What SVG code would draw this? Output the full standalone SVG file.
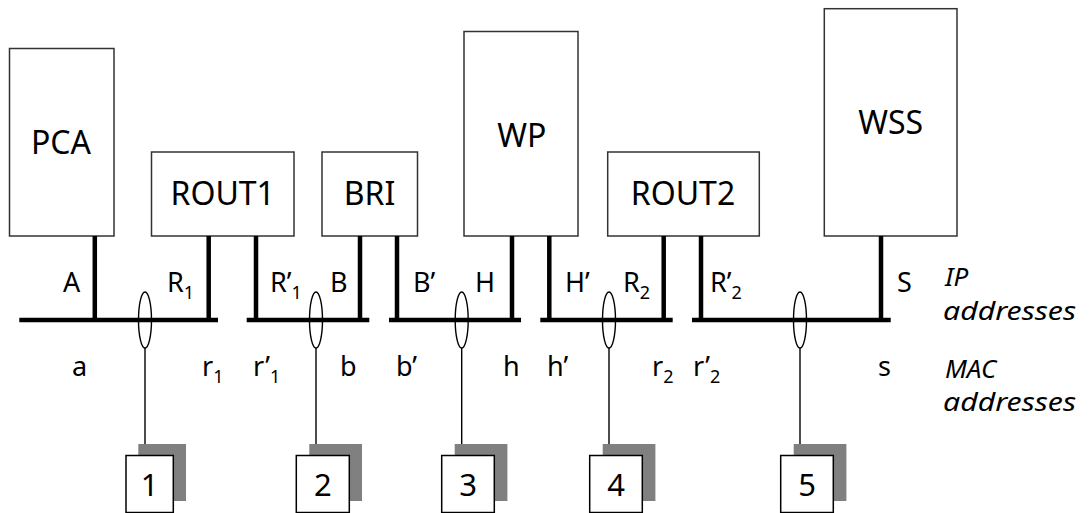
<svg xmlns="http://www.w3.org/2000/svg" width="1089" height="513" viewBox="0 0 1089 513">
<style>
  .box { fill: #fff; stroke: #333; stroke-width: 1.5; }
  .pin { stroke: #000; stroke-width: 4.5; fill: none; }
  .bus { stroke: #000; stroke-width: 4.5; fill: none; }
  .ell { fill: none; stroke: #000; stroke-width: 1.4; }
  .drop { stroke: #000; stroke-width: 1.4; fill: none; }
  .shadow { fill: #808080; }
  .sta { fill: #fff; stroke: #000; stroke-width: 1.5; }
  text { font-family: "Noto Sans", "DejaVu Sans", sans-serif; fill: #000; }
  .big { font-size: 32px; text-anchor: middle; }
  .lbl { font-size: 27px; }
  .sub { font-size: 18px; }
  .num { font-size: 31px; text-anchor: middle; }
  .it { font-size: 26px; font-style: italic; }
</style>

<g id="PCA">
  <rect class="box" x="9.5" y="48.5" width="104.5" height="187.5"/>
  <text class="big" x="61" y="154">PCA</text>
</g>
<g id="ROUT1">
  <rect class="box" x="151.5" y="152" width="142.5" height="84"/>
  <text class="big" x="222.7" y="205">ROUT1</text>
</g>
<g id="BRI">
  <rect class="box" x="322" y="152" width="95.5" height="84"/>
  <text class="big" x="369.5" y="205">BRI</text>
</g>
<g id="WP">
  <rect class="box" x="464" y="31.5" width="114" height="204.5"/>
  <text class="big" x="521.7" y="147">WP</text>
</g>
<g id="ROUT2">
  <rect class="box" x="607.7" y="152" width="151.6" height="84"/>
  <text class="big" x="683" y="205">ROUT2</text>
</g>
<g id="WSS">
  <rect class="box" x="824.3" y="8.7" width="132.7" height="227.3"/>
  <text class="big" x="890.7" y="134">WSS</text>
</g>

<g id="connectors">
  <line class="pin" x1="94.8" y1="236" x2="94.8" y2="320"/>
  <line class="pin" x1="208.7" y1="236" x2="208.7" y2="320"/>
  <line class="pin" x1="256" y1="236" x2="256" y2="320"/>
  <line class="pin" x1="360" y1="236" x2="360" y2="320"/>
  <line class="pin" x1="397" y1="236" x2="397" y2="320"/>
  <line class="pin" x1="512" y1="236" x2="512" y2="320"/>
  <line class="pin" x1="549.3" y1="236" x2="549.3" y2="320"/>
  <line class="pin" x1="663.7" y1="236" x2="663.7" y2="320"/>
  <line class="pin" x1="701" y1="236" x2="701" y2="320"/>
  <line class="pin" x1="881" y1="236" x2="881" y2="320"/>

  <line class="bus" x1="19.3" y1="320" x2="218" y2="320"/>
  <line class="bus" x1="246.7" y1="320" x2="369.3" y2="320"/>
  <line class="bus" x1="389" y1="320" x2="521" y2="320"/>
  <line class="bus" x1="540.3" y1="320" x2="672.7" y2="320"/>
  <line class="bus" x1="692" y1="320" x2="890.7" y2="320"/>

  <ellipse class="ell" cx="145" cy="320" rx="6.5" ry="28"/>
  <ellipse class="ell" cx="316" cy="320" rx="6.5" ry="28"/>
  <ellipse class="ell" cx="461.7" cy="320" rx="6.5" ry="28"/>
  <ellipse class="ell" cx="609" cy="320" rx="6.5" ry="28"/>
  <ellipse class="ell" cx="800" cy="320" rx="6.5" ry="28"/>

  <line class="drop" x1="145" y1="348" x2="145" y2="444"/>
  <line class="drop" x1="316" y1="348" x2="316" y2="444"/>
  <line class="drop" x1="461.7" y1="348" x2="461.7" y2="444"/>
  <line class="drop" x1="609" y1="348" x2="609" y2="444"/>
  <line class="drop" x1="800" y1="348" x2="800" y2="444"/>
</g>

<g id="station1">
  <rect class="shadow" x="138.3" y="444" width="47.7" height="57"/>
  <rect class="sta" x="126" y="455.5" width="47.3" height="57"/>
  <text class="num" x="149.7" y="496">1</text>
</g>
<g id="station2">
  <rect class="shadow" x="309.3" y="444" width="52.7" height="57"/>
  <rect class="sta" x="296.3" y="455.5" width="53" height="57"/>
  <text class="num" x="322.8" y="496">2</text>
</g>
<g id="station3">
  <rect class="shadow" x="454.7" y="444" width="52.7" height="57"/>
  <rect class="sta" x="441.7" y="455.5" width="52.6" height="57"/>
  <text class="num" x="468" y="496">3</text>
</g>
<g id="station4">
  <rect class="shadow" x="602.7" y="444" width="52.7" height="57"/>
  <rect class="sta" x="589.7" y="455.5" width="52.6" height="57"/>
  <text class="num" x="616" y="496">4</text>
</g>
<g id="station5">
  <rect class="shadow" x="793.7" y="444" width="52.7" height="57"/>
  <rect class="sta" x="780.7" y="455.5" width="52.6" height="57"/>
  <text class="num" x="807" y="496">5</text>
</g>

<g id="ip-labels">
  <text class="lbl" x="63" y="292">A</text>
  <text class="lbl" x="167" y="292">R<tspan class="sub" dy="7">1</tspan></text>
  <text class="lbl" x="270" y="292">R’<tspan class="sub" dy="7">1</tspan></text>
  <text class="lbl" x="330" y="292">B</text>
  <text class="lbl" x="413" y="292">B’</text>
  <text class="lbl" x="475" y="292">H</text>
  <text class="lbl" x="565" y="292">H’</text>
  <text class="lbl" x="623" y="292">R<tspan class="sub" dy="7">2</tspan></text>
  <text class="lbl" x="710" y="292">R’<tspan class="sub" dy="7">2</tspan></text>
  <text class="lbl" x="897" y="292">S</text>
</g>
<g id="mac-labels">
  <text class="lbl" x="72" y="376">a</text>
  <text class="lbl" x="202" y="376">r<tspan class="sub" dy="7">1</tspan></text>
  <text class="lbl" x="253" y="376">r’<tspan class="sub" dy="7">1</tspan></text>
  <text class="lbl" x="340" y="376">b</text>
  <text class="lbl" x="396" y="376">b’</text>
  <text class="lbl" x="503" y="376">h</text>
  <text class="lbl" x="547" y="376">h’</text>
  <text class="lbl" x="652" y="376">r<tspan class="sub" dy="7">2</tspan></text>
  <text class="lbl" x="693" y="376">r’<tspan class="sub" dy="7">2</tspan></text>
  <text class="lbl" x="878" y="376">s</text>
</g>
<g id="legend">
  <text class="it" x="945" y="286">IP</text>
  <text class="it" x="943" y="320" textLength="133" lengthAdjust="spacingAndGlyphs">addresses</text>
  <text class="it" x="945" y="378">MAC</text>
  <text class="it" x="943" y="411" textLength="133" lengthAdjust="spacingAndGlyphs">addresses</text>
</g>
</svg>
